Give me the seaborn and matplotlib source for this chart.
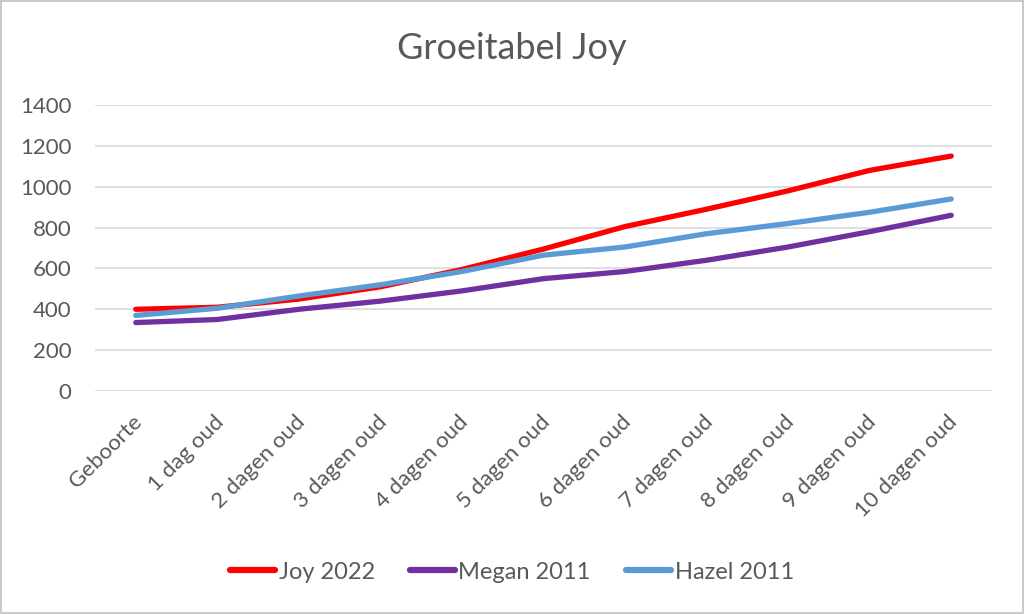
import pandas as pd
import matplotlib.pyplot as plt
import matplotlib.transforms as mtransforms
import seaborn as sns
from matplotlib.patches import Rectangle

# Groeitabel data (gram)
dagen = ["Geboorte", "1 dag oud", "2 dagen oud", "3 dagen oud", "4 dagen oud",
         "5 dagen oud", "6 dagen oud", "7 dagen oud", "8 dagen oud",
         "9 dagen oud", "10 dagen oud"]
joy_2022 = [400, 410, 450, 510, 595, 695, 805, 890, 980, 1080, 1150]
megan_2011 = [335, 350, 400, 440, 490, 550, 585, 640, 705, 780, 860]
hazel_2011 = [370, 405, 465, 520, 585, 665, 705, 770, 820, 875, 940]
y_ticks = [0, 200, 400, 600, 800, 1000, 1200, 1400]

series = {"Joy 2022": joy_2022, "Megan 2011": megan_2011, "Hazel 2011": hazel_2011}
kleuren = {"Joy 2022": "#FF0000", "Megan 2011": "#7030A0", "Hazel 2011": "#5B9BD5"}

rows = []
for naam, waarden in series.items():
    for dag, w in zip(dagen, waarden):
        rows.append({"dag": dag, "gewicht": w, "naam": naam})
df = pd.DataFrame(rows)

sns.set_theme(style="white")
plt.rcParams["font.family"] = ["Lato", "DejaVu Sans"]
tekst = "#595959"

fig = plt.figure(figsize=(10.24, 6.14), dpi=100)
ax = fig.add_axes([95 / 1024, 1 - 391 / 614, 897 / 1024, 286 / 614])

sns.lineplot(data=df, x="dag", y="gewicht", hue="naam", palette=kleuren,
             sort=False, linewidth=3.8, ax=ax, legend=True)
for line in ax.lines:
    line.set_solid_capstyle("round")

ax.set_ylim(0, 1400)
ax.set_yticks(y_ticks)
ax.set_xlim(-0.5, len(dagen) - 0.5)
ax.yaxis.grid(True, color="#d9d9d9", linewidth=1.2)
ax.set_axisbelow(True)
for s in ax.spines.values():
    s.set_visible(False)
ax.set_xlabel("")
ax.set_ylabel("")
ax.tick_params(axis="both", length=0, labelsize=16, colors=tekst)
ax.tick_params(axis="y", pad=17)
ax.tick_params(axis="x", pad=15)
ax.set_xticks(range(len(dagen)))
ax.set_xticklabels(dagen, rotation=45, ha="right", rotation_mode="anchor")
shift = mtransforms.ScaledTranslation(-4 / 100, 0, fig.dpi_scale_trans)
for lbl in ax.get_xticklabels():
    lbl.set_transform(lbl.get_transform() + shift)

fig.suptitle("Groeitabel Joy", y=0.948, fontsize=26, color=tekst)

handles, labels = ax.get_legend_handles_labels()
ax.get_legend().remove()
leg = fig.legend(handles, labels, loc="center", bbox_to_anchor=(0.5, 0.068), ncol=3,
                 frameon=False, fontsize=17, handlelength=1.9, handletextpad=0.15,
                 columnspacing=1.5)
for t in leg.get_texts():
    t.set_color(tekst)
for h in leg.get_lines():
    h.set_linewidth(4.5)
    h.set_solid_capstyle("round")

fig.patches.append(Rectangle((0.001, 0.001), 0.998, 0.998, transform=fig.transFigure,
                             fill=False, edgecolor="#bfbfbf", linewidth=1.2))

fig.savefig("out.png", dpi=100)
